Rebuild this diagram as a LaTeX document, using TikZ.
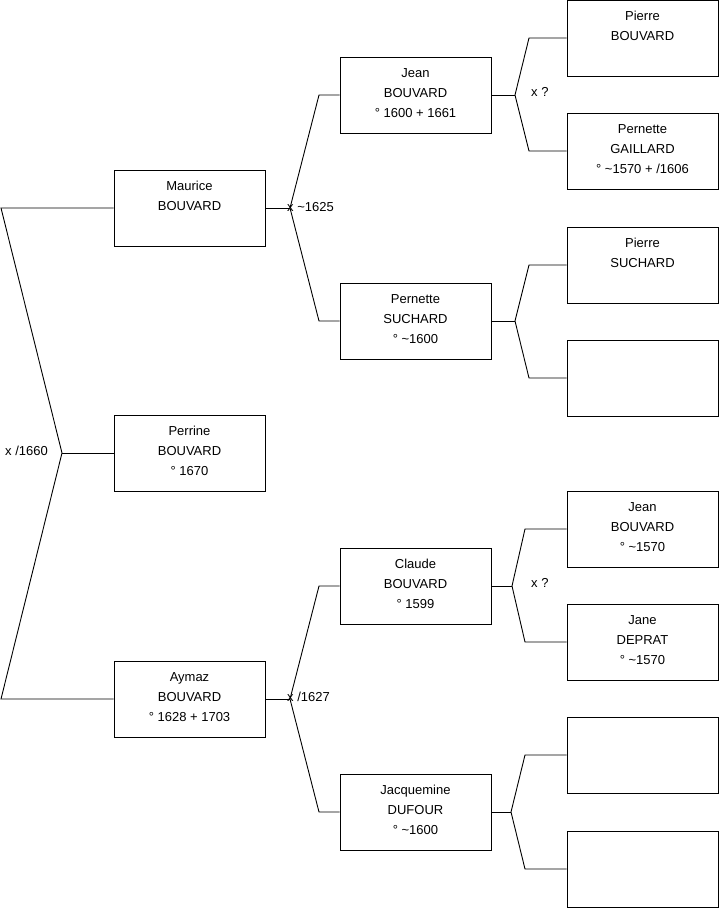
\documentclass[tikz,border=0pt]{standalone}
\usepackage{fontspec}
\setmainfont{Liberation Sans}
\begin{document}
\begin{tikzpicture}[x=1pt,y=-1pt,
  person/.style={draw=black,line width=0.9pt,rectangle,minimum width=151pt,minimum height=76pt,inner sep=0pt,text depth=4.5pt,align=center,font=\fontsize{13}{20}\selectfont},
  link/.style={draw=black,line width=0.9pt},
  lbl/.style={anchor=west,inner sep=0pt,font=\fontsize{13}{16}\selectfont}]
\useasboundingbox (0,0) rectangle (719,908);
% generation 1
\node[person] (maurice) at (189.5,208) {Maurice\\BOUVARD\\\mbox{}};
\node[person] (perrine) at (189.5,453) {Perrine\\BOUVARD\\° 1670};
\node[person] (aymaz) at (189.5,699) {Aymaz\\BOUVARD\\° 1628 + 1703};
% generation 2
\node[person] (jean) at (415.5,95) {Jean\\BOUVARD\\° 1600 + 1661};
\node[person] (pernS) at (415.5,321) {Pernette\\SUCHARD\\° \textasciitilde1600};
\node[person] (claude) at (415.5,586) {Claude\\BOUVARD\\° 1599};
\node[person] (jacq) at (415.5,812) {Jacquemine\\DUFOUR\\° \textasciitilde1600};
% generation 3
\node[person] (pierreB) at (642.5,38) {Pierre\\BOUVARD\\\mbox{}};
\node[person] (pernG) at (642.5,151) {Pernette\\GAILLARD\\° \textasciitilde1570 + /1606};
\node[person] (pierreS) at (642.5,265) {Pierre\\SUCHARD\\\mbox{}};
\node[person] (e1) at (642.5,378) {\mbox{}\\\mbox{}\\\mbox{}};
\node[person] (jeanB) at (642.5,529) {Jean\\BOUVARD\\° \textasciitilde1570};
\node[person] (jane) at (642.5,642) {Jane\\DEPRAT\\° \textasciitilde1570};
\node[person] (e2) at (642.5,755) {\mbox{}\\\mbox{}\\\mbox{}};
\node[person] (e3) at (642.5,869) {\mbox{}\\\mbox{}\\\mbox{}};
% root fork
\coordinate (r0) at (62,453);
\coordinate (r1) at (1,208);
\coordinate (r2) at (1,699);
\draw[link] (maurice.west) -- (r1) -- (r0) -- (r2) -- (aymaz.west);
\draw[link] (r0) -- (perrine.west);
\node[lbl] (l0) at (5,451) {x /1660};
% Maurice fork
\coordinate (m0) at (290,208);
\coordinate (m1) at (319,95);
\coordinate (m2) at (319,321);
\draw[link] (maurice.east) -- (m0);
\draw[link] (jean.west) -- (m1) -- (m0) -- (m2) -- (pernS.west);
\node[lbl] (l1) at (287,207) {x \textasciitilde1625};
% Aymaz fork
\coordinate (a0) at (290,699);
\coordinate (a1) at (319,586);
\coordinate (a2) at (319,812);
\draw[link] (aymaz.east) -- (a0);
\draw[link] (claude.west) -- (a1) -- (a0) -- (a2) -- (jacq.west);
\node[lbl] (l2) at (287,697) {x /1627};
% Jean fork
\coordinate (j0) at (515,95);
\coordinate (j1) at (529,38);
\coordinate (j2) at (529,151);
\draw[link] (jean.east) -- (j0);
\draw[link] (pierreB.west) -- (j1) -- (j0) -- (j2) -- (pernG.west);
\node[lbl] (l3) at (531,92) {x ?};
% Pernette Suchard fork
\coordinate (p0) at (515,321);
\coordinate (p1) at (529,265);
\coordinate (p2) at (529,378);
\draw[link] (pernS.east) -- (p0);
\draw[link] (pierreS.west) -- (p1) -- (p0) -- (p2) -- (e1.west);
% Claude fork
\coordinate (c0) at (512,586);
\coordinate (c1) at (525,529);
\coordinate (c2) at (525,642);
\draw[link] (claude.east) -- (c0);
\draw[link] (jeanB.west) -- (c1) -- (c0) -- (c2) -- (jane.west);
\node[lbl] (l4) at (531,583) {x ?};
% Jacquemine fork
\coordinate (q0) at (511,812);
\coordinate (q1) at (525,755);
\coordinate (q2) at (525,869);
\draw[link] (jacq.east) -- (q0);
\draw[link] (e2.west) -- (q1) -- (q0) -- (q2) -- (e3.west);
\end{tikzpicture}
\end{document}
